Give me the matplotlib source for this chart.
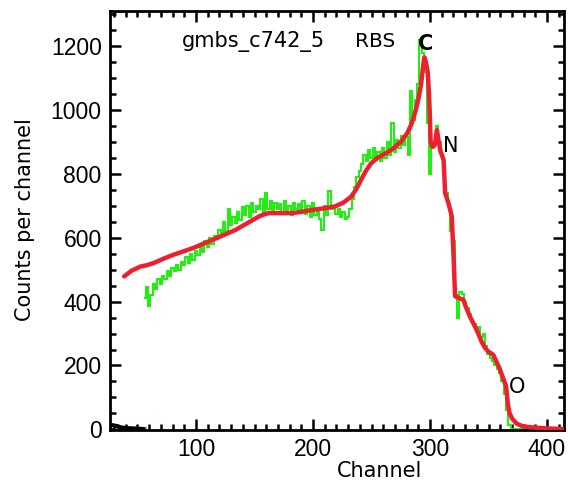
import numpy as np
import matplotlib
matplotlib.use("Agg")
import matplotlib.pyplot as plt
from matplotlib.ticker import MultipleLocator

# ---- data ----
# simulated spectrum (red)
red_ch = [38.6, 45, 52.7, 58, 64, 72, 80.8, 89, 97.7, 106, 114.6, 124, 134, 144, 154,
          158, 162, 170, 182, 190, 199, 209, 218.7, 226, 232.7, 237, 241, 245, 249.6, 255,
          262, 268, 275, 280.6, 284, 286.2, 288.5, 290.5, 292.5, 294, 295.2, 296.5, 298, 299,
          299.8, 300.5, 302, 304, 305.9, 307.5, 309, 311.6, 312.9, 315.8, 318.6, 320, 321.4,
          324, 328.4, 331, 334, 338, 341, 344, 347, 350, 354, 357, 359.5, 362, 365, 366.5,
          368, 370.5, 374, 379, 385, 392, 400, 414]
red_counts = [479, 497, 510, 514, 521, 534, 547, 557, 568, 581, 594, 609, 625, 646, 667,
              673, 677, 677, 677, 681, 687, 692, 698, 710, 729, 752, 781, 808, 833, 850,
              864, 878, 900, 928, 955, 979, 1010, 1042, 1085, 1135, 1165, 1150, 1120, 1060,
              990, 900, 885, 890, 937, 900, 870, 844, 740, 708, 667, 552, 417,
              412, 406, 380, 354, 325, 302, 275, 255, 243, 234, 210, 190, 165, 135, 80,
              50, 32, 18, 10, 7, 5, 3, 1]

# measured spectrum (green), channels 56, 58, ..., 414
green_first_channel = 56
green_channel_step = 2
green_counts = [
    410, 445, 385, 420, 455, 440, 470, 455, 480, 470, 495, 480, 505, 495, 515, 500,
    525, 515, 540, 520, 550, 530, 560, 545, 575, 555, 590, 570, 600, 580, 605, 595,
    625, 610, 650, 620, 690, 640, 665, 645, 680, 655, 695, 670, 700, 665, 710, 680,
    700, 690, 720, 670, 740, 690, 715, 680, 710, 690, 705, 675, 715, 685, 700, 670,
    710, 690, 705, 680, 715, 675, 700, 665, 710, 670, 690, 660, 625, 700, 670, 745,
    690, 700, 675, 690, 665, 680, 660, 665, 690, 720, 760, 790, 810, 830, 860, 840,
    875, 850, 880, 845, 870, 840, 880, 850, 900, 860, 960, 870, 905, 880, 920, 890,
    915, 860, 1060, 970, 1030, 1080, 1220, 1180, 1120, 960, 800, 880, 900, 950, 900, 860,
    820, 740, 700, 620, 590, 420, 350, 430, 425, 400, 380, 360, 340, 330, 315, 320,
    290, 300, 260, 235, 225, 215, 200, 190, 175, 150, 110, 60, 15, 2, 0, 0,
    0, 0, 0, 0, 0, 0, 0, 0, 0, 0, 0, 0, 0, 0, 0, 0,
    0, 0, 0, 0,
]
# low-channel pieces near the origin
green_low_ch = [32, 40, 48, 57]
green_low_counts = [5, 4, 5, 4]
black_ch = [27, 30, 33, 36, 40, 45, 50, 55]
black_counts = [14, 12, 10, 6, 4, 3, 2, 1]

x_major = [100, 200, 300, 400]
y_major = [0, 200, 400, 600, 800, 1000, 1200]

sample_name = "gmbs_c742_5"
technique = "RBS"
peaks = [("C", 296, 1208), ("N", 318, 888), ("O", 374, 133)]

# ---- figure ----
W, H = 568, 486
fig = plt.figure(figsize=(W / 100, H / 100), dpi=100)
ax = fig.add_axes([110 / W, 1 - 430 / H, (564 - 110) / W, (430 - 11) / H])

green_ch = np.arange(len(green_counts)) * green_channel_step + green_first_channel
ax.plot(green_ch, green_counts, color="#22ee11", lw=1.5, drawstyle="steps-mid",
        solid_joinstyle="miter", zorder=2)
ax.plot(green_low_ch, green_low_counts, color="#22ee11", lw=1.5, zorder=2)
ax.plot(black_ch, black_counts, color="black", lw=3.0, zorder=3)
ax.plot(red_ch, red_counts, color="#ee2030", lw=3.2, zorder=4,
        solid_joinstyle="round", solid_capstyle="round")

ax.set_xlim(26.5, 414.5)
ax.set_ylim(-2, 1310)

ax.xaxis.set_major_locator(MultipleLocator(100))
ax.xaxis.set_minor_locator(MultipleLocator(10))
ax.yaxis.set_major_locator(MultipleLocator(200))
ax.yaxis.set_minor_locator(MultipleLocator(50))
ax.set_xticks(x_major)
ax.set_yticks(y_major)

for s in ax.spines.values():
    s.set_linewidth(2.0)
ax.tick_params(which="both", direction="in", top=True, right=True, width=1.8,
               colors="black")
ax.tick_params(which="major", length=8)
ax.tick_params(which="minor", length=4.5)
ax.tick_params(axis="y", which="major", pad=6)
ax.tick_params(axis="x", which="major", pad=6)
for lab in ax.get_xticklabels() + ax.get_yticklabels():
    lab.set_fontfamily("Liberation Sans")
    lab.set_fontsize(16.5)

# text annotations
ax.text(88, 1213, sample_name, fontsize=15, family="DejaVu Sans", va="center", ha="left")
ax.text(236, 1213, technique, fontsize=14.5, family="DejaVu Sans", va="center", ha="left")
for lbl, cx, cy in peaks:
    ax.text(cx, cy, lbl, fontsize=15, family="DejaVu Sans",
            fontweight="bold" if lbl == "C" else "normal",
            ha="center", va="center", zorder=5)

fig.text(380 / W, 1 - 471 / H, "Channel", fontsize=15, family="DejaVu Sans",
         ha="center", va="center")
fig.text(25 / W, 1 - 220 / H, "Counts per channel", fontsize=15, family="DejaVu Sans",
         ha="center", va="center", rotation=90)

fig.savefig("out.png", dpi=100)
